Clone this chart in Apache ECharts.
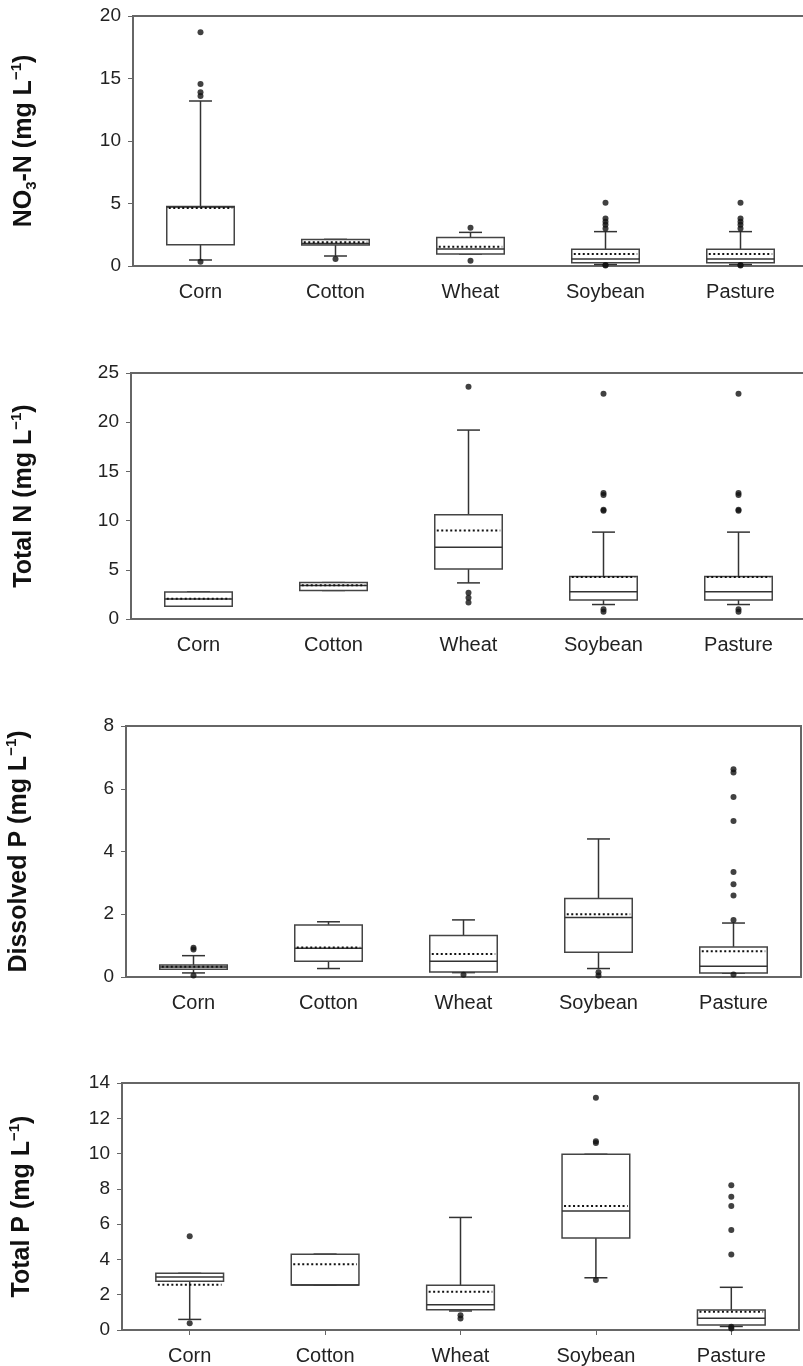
<!DOCTYPE html>
<html>
<head>
<meta charset="utf-8">
<script src="https://cdn.jsdelivr.net/npm/echarts@6/dist/echarts.min.js"></script>
<style>
  html, body { margin: 0; padding: 0; background: #fff; }
  #main { width: 803px; height: 1366px; }
</style>
</head>
<body>
<div id="main"></div>
<script>
var categories = ['Corn', 'Cotton', 'Wheat', 'Soybean', 'Pasture'];

// each box: [low whisker, Q1, median, Q3, high whisker]
var no3Boxes = [[0.48, 1.7, 4.72, 4.76, 13.2], [0.8, 1.68, 1.8, 2.13, 2.13], [0.96, 0.96, 1.36, 2.29, 2.69], [0.12, 0.27, 0.56, 1.34, 2.75], [0.12, 0.27, 0.56, 1.34, 2.75]];
var no3Means = [4.64, 1.9, 1.55, 0.96, 0.96];
var no3Outliers = [[0, 18.7], [0, 14.56], [0, 13.9], [0, 13.6], [0, 0.35], [1, 0.56], [2, 3.07], [2, 0.43],
  [3, 5.06], [3, 3.8], [3, 3.55], [3, 3.3], [3, 3.0], [3, 0.08], [3, 0.05],
  [4, 5.06], [4, 3.8], [4, 3.55], [4, 3.3], [4, 3.0], [4, 0.08], [4, 0.05]];

var tnBoxes = [[1.3, 1.3, 2.03, 2.75, 2.75], [2.9, 2.9, 3.4, 3.7, 3.7], [3.67, 5.07, 7.3, 10.6, 19.2], [1.47, 1.93, 2.77, 4.33, 8.83], [1.47, 1.93, 2.77, 4.33, 8.83]];
var tnMeans = [2.05, 3.42, 9.0, 4.27, 4.27];
var tnOutliers = [[2, 23.6], [2, 2.67], [2, 2.17], [2, 1.67],
  [3, 22.9], [3, 12.8], [3, 12.6], [3, 11.1], [3, 11.0], [3, 1.0], [3, 0.73],
  [4, 22.9], [4, 12.8], [4, 12.6], [4, 11.1], [4, 11.0], [4, 1.0], [4, 0.73]];

var dpBoxes = [[0.13, 0.25, 0.32, 0.38, 0.68], [0.27, 0.5, 0.92, 1.66, 1.76], [0.14, 0.16, 0.5, 1.32, 1.82], [0.27, 0.79, 1.9, 2.5, 4.4], [0.12, 0.13, 0.34, 0.96, 1.72]];
var dpMeans = [0.33, 0.94, 0.73, 2.0, 0.82];
var dpOutliers = [[0, 0.93], [0, 0.88], [0, 0.05], [2, 0.07], [3, 0.15], [3, 0.05],
  [4, 6.62], [4, 6.52], [4, 5.74], [4, 4.97], [4, 3.35], [4, 2.96], [4, 2.6], [4, 1.82], [4, 0.08]];

var tpBoxes = [[0.6, 2.77, 3.0, 3.21, 3.21], [2.55, 2.55, 2.55, 4.3, 4.3], [1.08, 1.15, 1.43, 2.53, 6.38], [2.96, 5.22, 6.75, 9.96, 9.96], [0.2, 0.28, 0.66, 1.13, 2.42]];
var tpMeans = [2.57, 3.72, 2.17, 7.03, 1.04];
var tpOutliers = [[0, 5.32], [0, 0.38], [2, 0.84], [2, 0.65], [3, 13.16], [3, 10.7], [3, 10.6], [3, 2.83],
  [4, 8.2], [4, 7.55], [4, 7.03], [4, 5.67], [4, 4.28], [4, 0.18], [4, 0.09]];

var panels = [
  { name: '{b|NO}{sub|3}{b|-N (mg L}{sup|−1}{b|)}', max: 20, interval: 5, boxes: no3Boxes, means: no3Means, outliers: no3Outliers,
    grid: { left: 133, top: 16, width: 675, height: 250 }, gap: 94, ticks: false },
  { name: '{b|Total N (mg L}{sup|−1}{b|)}', max: 25, interval: 5, boxes: tnBoxes, means: tnMeans, outliers: tnOutliers,
    grid: { left: 131, top: 373, width: 675, height: 246 }, gap: 92, ticks: false },
  { name: '{b|Dissolved P (mg L}{sup|−1}{b|)}', max: 8, interval: 2, boxes: dpBoxes, means: dpMeans, outliers: dpOutliers,
    grid: { left: 126, top: 726, width: 675, height: 251 }, gap: 92, ticks: false },
  { name: '{b|Total P (mg L}{sup|−1}{b|)}', max: 14, interval: 2, boxes: tpBoxes, means: tpMeans, outliers: tpOutliers,
    grid: { left: 122, top: 1083, width: 677, height: 247 }, gap: 85, ticks: true }
];

function renderBox(params, api) {
  var c = api.value(0);
  var p = [1, 2, 3, 4, 5, 6].map(function (d) { return api.coord([c, api.value(d)]); });
  var x = p[0][0];
  var half = api.size([1, 0])[0] * 0.25;
  var cap = half * 0.34;
  var line = { stroke: '#333', lineWidth: 1.5 };
  return {
    type: 'group',
    children: [
      { type: 'line', shape: { x1: x, y1: p[0][1], x2: x, y2: p[1][1] }, style: line },
      { type: 'line', shape: { x1: x, y1: p[3][1], x2: x, y2: p[4][1] }, style: line },
      { type: 'line', shape: { x1: x - cap, y1: p[0][1], x2: x + cap, y2: p[0][1] }, style: line },
      { type: 'line', shape: { x1: x - cap, y1: p[4][1], x2: x + cap, y2: p[4][1] }, style: line },
      { type: 'rect', shape: { x: x - half, y: p[3][1], width: half * 2, height: p[1][1] - p[3][1] },
        style: { fill: '#fff', stroke: '#444', lineWidth: 1.5 } },
      { type: 'line', shape: { x1: x - half, y1: p[2][1], x2: x + half, y2: p[2][1] }, style: { stroke: '#333', lineWidth: 1.5 } },
      { type: 'line', shape: { x1: x - half + 2, y1: p[5][1], x2: x + half - 2, y2: p[5][1] },
        style: { stroke: '#111', lineWidth: 2, lineDash: [2, 2.5] } }
    ]
  };
}

var option = { animation: false, backgroundColor: '#fff', grid: [], xAxis: [], yAxis: [], series: [] };

panels.forEach(function (pn, i) {
  option.grid.push(Object.assign({ show: true, borderColor: '#666', borderWidth: 2, outerBoundsMode: 'none' }, pn.grid));
  option.xAxis.push({
    type: 'category', gridIndex: i, data: categories,
    axisLine: { lineStyle: { color: '#666', width: 2 } },
    axisTick: { show: pn.ticks, alignWithLabel: true, length: 5, lineStyle: { color: '#666' } },
    axisLabel: { color: '#222', fontSize: 20, fontFamily: 'Liberation Sans', margin: 16 },
    splitLine: { show: false }
  });
  option.yAxis.push({
    type: 'value', gridIndex: i, min: 0, max: pn.max, interval: pn.interval,
    name: pn.name, nameLocation: 'middle', nameGap: pn.gap,
    nameTextStyle: {
      fontSize: 25, fontWeight: 'bold', fontFamily: 'Liberation Sans', color: '#111',
      rich: {
        b: { fontSize: 25, fontWeight: 'bold', fontFamily: 'Liberation Sans', color: '#111', lineHeight: 30 },
        sub: { fontSize: 15, fontWeight: 'bold', fontFamily: 'Liberation Sans', color: '#111', lineHeight: 30, verticalAlign: 'bottom' },
        sup: { fontSize: 15, fontWeight: 'bold', fontFamily: 'Liberation Sans', color: '#111', lineHeight: 30, verticalAlign: 'top' }
      }
    },
    axisLine: { show: true, lineStyle: { color: '#666', width: 2 } },
    axisTick: { show: true, length: 5, lineStyle: { color: '#666' } },
    axisLabel: { color: '#222', fontSize: 19, fontFamily: 'Liberation Sans', margin: 12 },
    splitLine: { show: false }
  });
  var data = pn.boxes.map(function (b, k) { return [k, b[0], b[1], b[2], b[3], b[4], pn.means[k]]; });
  option.series.push({
    type: 'custom', xAxisIndex: i, yAxisIndex: i, renderItem: renderBox,
    encode: { x: 0, y: [1, 2, 3, 4, 5, 6] }, data: data, z: 2
  });
  option.series.push({
    type: 'scatter', xAxisIndex: i, yAxisIndex: i, data: pn.outliers,
    symbolSize: 6, itemStyle: { color: '#111' }, z: 3
  });
});

var myChart = echarts.init(document.getElementById('main'));
myChart.setOption(option);
</script>
</body>
</html>
